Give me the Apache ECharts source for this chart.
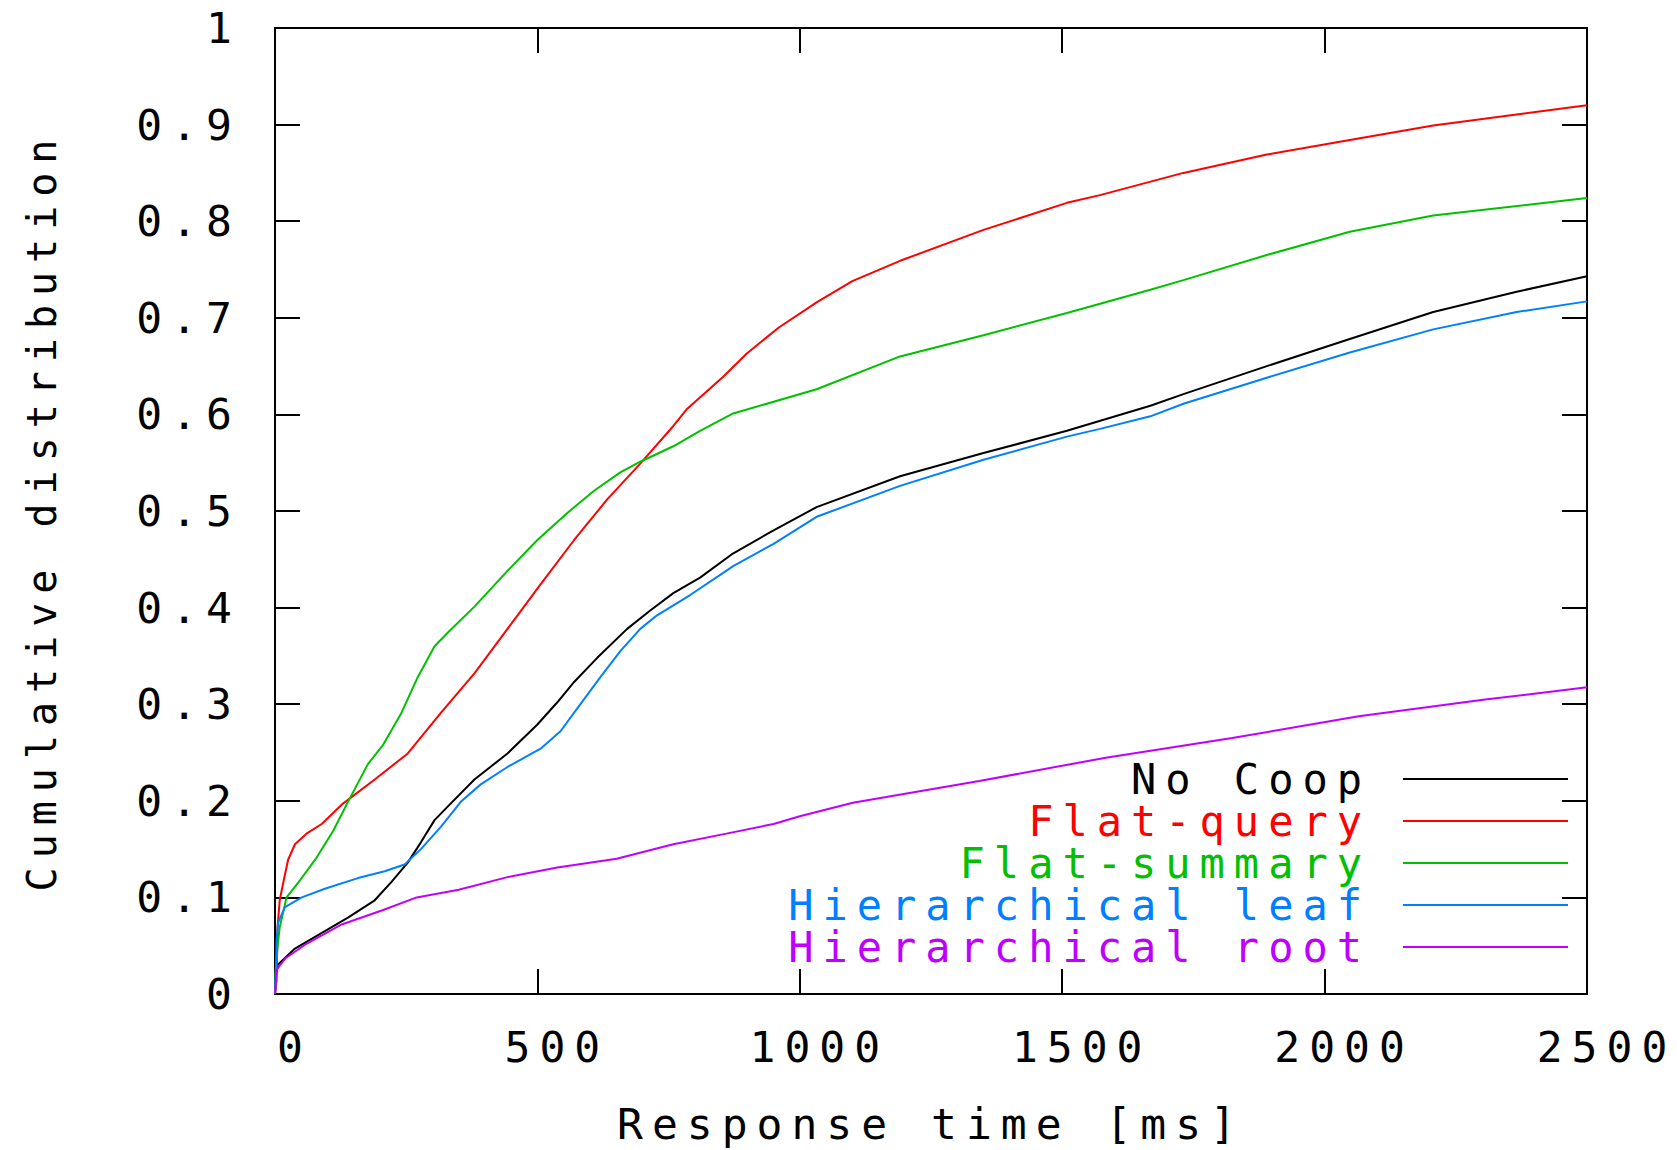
<!DOCTYPE html>
<html>
<head>
<meta charset="utf-8">
<script src="https://cdn.jsdelivr.net/npm/echarts@6/dist/echarts.min.js"></script>
<style>
  html, body { margin: 0; padding: 0; background: #fff; }
  #chart { width: 1677px; height: 1150px; }
  /* gnuplot style wide mono text */
  #chart text { letter-spacing: 9px; }
</style>
</head>
<body>
<div id="chart"></div>
<script>
// [response time ms, cumulative fraction]
const noCoop = [[0,0],[2,0.02],[5,0.03],[38,0.047],[95,0.065],[139,0.079],[190,0.097],[222,0.116],[253,0.136],[278,0.157],[304,0.18],[329,0.194],[380,0.222],[443,0.249],[500,0.279],[538,0.302],[570,0.323],[614,0.348],[671,0.378],[715,0.397],[759,0.415],[810,0.431],[870,0.455],[950,0.48],[1032,0.504],[1191,0.536],[1350,0.56],[1509,0.583],[1668,0.609],[1731,0.621],[1890,0.65],[2048,0.678],[2207,0.706],[2366,0.727],[2500,0.743]]
const flatQuery = [[0,0],[3,0.014],[5,0.07],[9,0.097],[16,0.116],[25,0.139],[38,0.155],[60,0.166],[89,0.176],[127,0.196],[190,0.222],[253,0.249],[316,0.291],[380,0.332],[443,0.378],[506,0.424],[570,0.47],[633,0.512],[696,0.549],[759,0.588],[784,0.605],[854,0.639],[899,0.663],[960,0.69],[1032,0.716],[1100,0.738],[1191,0.759],[1350,0.791],[1509,0.819],[1572,0.827],[1731,0.85],[1890,0.869],[2048,0.884],[2207,0.899],[2500,0.92]]
const flatSummary = [[0,0],[1,0.021],[5,0.05],[9,0.069],[22,0.1],[48,0.118],[79,0.141],[111,0.169],[143,0.203],[177,0.238],[206,0.258],[240,0.29],[272,0.328],[304,0.36],[329,0.374],[380,0.401],[443,0.438],[500,0.47],[557,0.498],[608,0.521],[658,0.54],[696,0.551],[759,0.567],[810,0.583],[873,0.601],[1032,0.626],[1191,0.66],[1350,0.682],[1509,0.705],[1668,0.729],[1731,0.739],[1890,0.765],[2048,0.789],[2207,0.806],[2500,0.824]]
const hierLeaf = [[0,0],[2,0.03],[3,0.056],[6,0.074],[19,0.09],[51,0.1],[95,0.109],[158,0.12],[209,0.127],[247,0.134],[278,0.15],[316,0.173],[354,0.199],[392,0.217],[443,0.235],[506,0.254],[544,0.272],[582,0.3],[620,0.328],[658,0.355],[696,0.378],[728,0.392],[791,0.413],[854,0.436],[873,0.443],[950,0.466],[1032,0.494],[1191,0.526],[1350,0.553],[1509,0.577],[1572,0.585],[1668,0.598],[1731,0.611],[1890,0.638],[2048,0.664],[2207,0.688],[2366,0.706],[2500,0.717]]
const hierRoot = [[0,0],[3,0.025],[20,0.037],[60,0.052],[127,0.072],[206,0.087],[270,0.1],[350,0.108],[443,0.121],[538,0.131],[651,0.14],[759,0.155],[860,0.166],[950,0.176],[1000,0.184],[1101,0.198],[1342,0.2205],[1583,0.2446],[1824,0.265],[2065,0.2876],[2306,0.3048],[2500,0.3175]]

const seriesNames = ['No Coop', 'Flat-query', 'Flat-summary', 'Hierarchical leaf', 'Hierarchical root']
const seriesData = [noCoop, flatQuery, flatSummary, hierLeaf, hierRoot]
const colors = ['#000000', '#ff0000', '#00c000', '#0080ff', '#c000ff']

const font = 'DejaVu Sans Mono'
const fontSize = 43

const chart = echarts.init(document.getElementById('chart'), null, { renderer: 'svg' })

const tick = { show: true, inside: true, length: 25, lineStyle: { color: '#000', width: 2 } }
const line = { show: true, onZero: false, lineStyle: { color: '#000', width: 2 } }

const option = {
  animation: false,
  textStyle: { fontFamily: font, fontSize: fontSize, color: '#000' },
  grid: { left: 275, right: 90, top: 28, bottom: 153 },
  legend: {
    orient: 'vertical',
    align: 'right',
    right: 109,
    top: 758,
    padding: 0,
    itemGap: 0,
    itemWidth: 165,
    itemHeight: 2,
    icon: 'rect',
    selectedMode: false,
    textStyle: { fontFamily: font, fontSize: 42, lineHeight: 42, padding: [0, 27, 0, 0] },
    data: seriesNames.map((n, i) => ({ name: n, textStyle: { color: colors[i] } }))
  },
  xAxis: [
    {
      type: 'value', min: 0, max: 2500, interval: 500,
      name: 'Response time [ms]', nameLocation: 'middle', nameGap: 108,
      nameTextStyle: { fontFamily: font, fontSize: fontSize, color: '#000' },
      axisLine: line, axisTick: tick, splitLine: { show: false },
      axisLabel: {
        margin: 31, fontFamily: font, fontSize: fontSize, lineHeight: 43, color: '#000',
        padding: [0, 0, 0, 39], formatter: v => String(v)
      }
    },
    {
      type: 'value', position: 'top', min: 0, max: 2500, interval: 500,
      axisLine: line, axisTick: tick, splitLine: { show: false }, axisLabel: { show: false }
    }
  ],
  yAxis: [
    {
      type: 'value', min: 0, max: 1, interval: 0.1,
      name: 'Cumulative distribution', nameLocation: 'middle', nameGap: 213,
      nameTextStyle: { fontFamily: font, fontSize: 40, color: '#000' },
      axisLine: line, axisTick: tick, splitLine: { show: false },
      axisLabel: {
        margin: 34, fontFamily: font, fontSize: fontSize, color: '#000',
        formatter: v => (v === 0 ? '0' : v === 1 ? '1' : v.toFixed(1))
      }
    },
    {
      type: 'value', position: 'right', min: 0, max: 1, interval: 0.1,
      axisLine: line, axisTick: tick, splitLine: { show: false }, axisLabel: { show: false }
    }
  ],
  series: seriesData.map((d, i) => ({
    name: seriesNames[i],
    type: 'line',
    data: d,
    showSymbol: false,
    color: colors[i],
    itemStyle: { color: colors[i] },
    lineStyle: { color: colors[i], width: 2 }
  }))
}

chart.setOption(option)
</script>
</body>
</html>
